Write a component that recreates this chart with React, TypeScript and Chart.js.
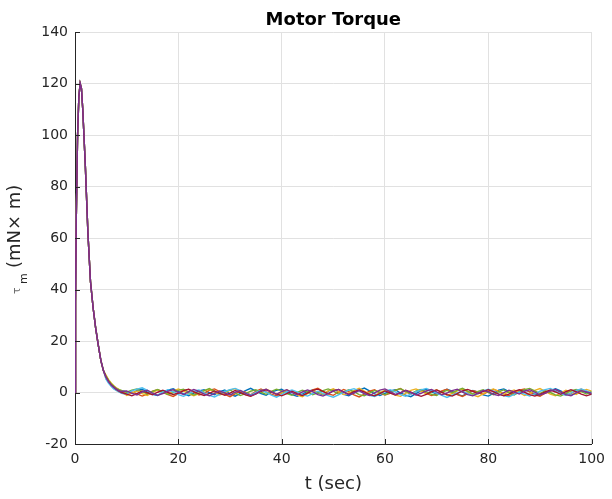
import React, { useEffect, useRef } from 'react';
import { Chart, registerables } from 'chart.js';

Chart.register(...registerables);

// ---- data ----
// shared rise and early decay (sec, mN·m)
const RISE_T = [0, 0.1, 0.25, 0.5, 0.75, 1, 1.25, 1.5, 1.75, 2, 2.5, 3, 3.5, 4, 4.5, 5, 5.5];
const RISE_Y = [0, 35, 68, 100, 115, 120, 118, 110, 99, 88, 62, 43, 33, 25, 18.5, 12.5, 8.5];

// per-run settling (sec)
const SETTLE_T = [6, 6.5, 7, 7.5, 8, 8.5, 9, 9.5];
const SETTLE_1 = [6.2, 4.4, 3.3, 2.2, 1.6, 0.9, 0.6, 0.5];
const SETTLE_2 = [5.5, 3.9, 2.6, 1.7, 0.9, 0.3, -0.1, -0.4];
const SETTLE_3 = [6.8, 5.0, 3.7, 2.6, 1.8, 1.2, 0.5, -0.2];
const SETTLE_4 = [5.9, 4.2, 2.9, 2.0, 1.3, 0.7, 0.4, 0.5];
const SETTLE_5 = [6.5, 4.7, 3.4, 2.5, 1.5, 1.1, 0.8, 0.3];
const SETTLE_6 = [5.2, 3.6, 2.4, 1.4, 0.8, 0.2, -0.3, -0.5];
const SETTLE_7 = [6.0, 4.3, 3.0, 2.1, 1.2, 0.5, 0.0, -0.3];

// steady-state time grid (sec)
const TAIL_T = [
  10, 11, 12, 13, 14, 15, 16, 17, 18, 19,
  20, 21, 22, 23, 24, 25, 26, 27, 28, 29,
  30, 31, 32, 33, 34, 35, 36, 37, 38, 39,
  40, 41, 42, 43, 44, 45, 46, 47, 48, 49,
  50, 51, 52, 53, 54, 55, 56, 57, 58, 59,
  60, 61, 62, 63, 64, 65, 66, 67, 68, 69,
  70, 71, 72, 73, 74, 75, 76, 77, 78, 79,
  80, 81, 82, 83, 84, 85, 86, 87, 88, 89,
  90, 91, 92, 93, 94, 95, 96, 97, 98, 99,
  100,
];

const TAIL_1 = [
  0.3, -0.4, 0.8, 1.3, 0.2, -0.7, -1.2, 0.1, 0.9, 1.5,
  0.4, -0.5, -1.3, -0.2, 0.6, 1.1, -0.1, -0.9, 0.3, 1.0,
  -0.6, -1.4, -0.3, 0.7, 1.6, 0.5, -0.4, -1.1, 0.2, 0.8,
  1.3, 0.1, -0.8, -1.5, -0.6, 0.4, 1.0, -0.2, -0.9, 0.5,
  1.2, 0.3, -0.7, -1.3, -0.1, 0.9, 1.7, 0.6, -0.5, -1.2,
  -0.3, 0.6, 1.1, -0.2, -1.0, -1.6, -0.4, 0.7, 1.2, 0.2,
  -0.6, 0.4, 1.3, 0.5, -0.7, -1.3, -0.2, 0.8, 0.1, -0.9,
  -1.4, -0.3, 0.9, 1.4, 0.3, -0.8, 0.2, 1.0, 0.4, -0.6,
  -1.2, -0.1, 0.7, 1.5, 0.6, -0.4, -1.1, -0.2, 0.8, 0.0,
  -0.7,
];
const TAIL_2 = [
  -0.9, 0.2, -0.5, -1.4, -0.6, 0.5, 1.1, 0.1, -0.8, -1.5,
  -0.4, 0.7, 1.2, 0.0, -1.0, -0.3, 0.8, 1.4, 0.3, -0.7,
  -1.6, -0.5, 0.6, 0.1, -0.9, 0.4, 1.3, 0.2, -0.6, -1.3,
  -0.2, 0.9, 0.3, -0.8, -1.4, -0.1, 1.0, 1.6, 0.4, -0.5,
  -1.1, 0.2, 1.2, 0.3, -0.9, -1.7, -0.6, 0.5, 1.1, -0.2,
  -1.0, -0.3, 0.8, 1.5, 0.2, -0.6, 0.4, 1.0, -0.3, -1.2,
  -0.5, 0.6, 1.3, 0.1, -0.8, -1.5, -0.4, 0.7, 0.2, -0.7,
  0.3, 1.2, 0.5, -0.6, -1.3, -0.2, 0.9, 1.4, 0.2, -0.9,
  -1.5, -0.3, 0.6, 1.1, -0.1, -1.0, -0.4, 0.7, 1.3, 0.3,
  -0.4,
];
const TAIL_3 = [
  -1.1, -0.2, 0.6, -0.4, -1.2, 0.0, 1.0, 0.3, -0.6, 0.5,
  1.4, 0.6, -0.5, -1.3, -0.4, 0.7, 1.2, 0.1, -1.0, -0.2,
  0.9, 1.5, 0.3, -0.8, -1.4, -0.5, 0.6, 1.3, 0.4, -0.7,
  -0.1, 1.0, 0.2, -0.9, -1.6, -0.4, 0.8, 0.1, -0.7, 0.6,
  1.4, 0.3, -0.8, -0.2, 0.7, 1.6, 0.5, -0.6, -1.3, 0.0,
  0.9, 0.2, -1.0, -1.5, -0.3, 0.8, 1.4, 0.4, -0.5, 0.3,
  1.1, 0.0, -1.1, -0.4, 0.6, 1.3, 0.2, -0.9, -1.6, -0.5,
  0.7, 1.4, 0.3, -0.7, 0.2, 1.0, -0.1, -1.2, -0.4, 0.8,
  1.5, 0.4, -0.6, -1.3, -0.2, 0.9, 0.2, -0.8, 0.4, 1.2,
  0.5,
];
const TAIL_4 = [
  0.6, -0.3, -1.0, 0.2, 0.9, -0.2, -1.1, -0.4, 0.5, 1.1,
  0.1, -0.8, 0.3, 1.2, 0.4, -0.6, -1.3, -0.3, 0.6, -0.2,
  -1.0, 0.1, 0.8, -0.3, -1.2, -0.5, 0.7, 1.3, 0.2, -0.7,
  0.4, 1.1, 0.0, -0.9, 0.2, 1.0, 0.3, -0.8, -1.4, -0.4,
  0.6, 1.2, 0.1, -0.9, -0.2, 0.7, -0.4, -1.2, -0.1, 0.9,
  1.4, 0.3, -0.7, -0.1, 0.8, 0.0, -1.0, -0.3, 0.6, 1.2,
  0.2, -0.9, -0.2, 0.7, 1.3, 0.1, -0.8, -1.3, -0.2, 0.8,
  0.3, -0.7, -1.2, 0.0, 0.9, 0.2, -0.6, 0.5, 1.1, 0.1,
  -0.9, -0.3, 0.6, 1.2, 0.2, -0.8, -1.3, -0.1, 0.7, 0.2,
  -0.3,
];
const TAIL_5 = [
  0.1, 0.9, 1.4, 0.3, -0.6, 0.4, 1.2, 0.2, -0.8, -0.1,
  0.8, 1.3, 0.0, -1.0, -0.2, 0.7, 1.5, 0.5, -0.5, 0.3,
  1.0, -0.2, -1.2, -0.4, 0.5, 1.1, 0.1, -0.7, 0.4, 1.3,
  0.6, -0.4, -1.1, 0.0, 0.9, 0.2, -0.9, -0.1, 0.7, 1.4,
  0.5, -0.6, 0.2, 1.1, 0.3, -0.8, -1.3, -0.2, 0.8, 0.1,
  -0.9, 0.0, 0.9, 1.5, 0.4, -0.5, 0.5, 1.2, 0.2, -0.7,
  -1.2, 0.1, 0.8, -0.1, 0.9, 1.6, 0.5, -0.6, 0.4, 1.1,
  0.0, -0.9, 0.3, 1.0, -0.1, -1.0, 0.2, 1.1, 1.6, 0.6,
  -0.4, 0.7, 0.0, -0.9, -1.4, -0.3, 0.6, 1.2, 0.3, -0.6,
  0.4,
];
const TAIL_6 = [
  -0.5, 0.6, 1.3, 1.8, 0.8, -0.3, -1.0, 0.2, 1.1, 0.3,
  -0.8, -1.5, -0.5, 0.5, 1.0, -0.1, -1.1, -1.7, -0.7, 0.4,
  1.1, 1.6, 0.7, -0.3, -1.0, 0.0, 0.9, 0.1, -1.0, -1.8,
  -0.8, 0.3, 1.0, 0.2, -0.8, -1.4, -0.4, 0.5, -0.3, -1.2,
  -1.8, -0.9, 0.1, 0.9, 1.5, 0.6, -0.4, -1.1, -1.6, -0.6,
  0.4, 1.1, 0.2, -0.8, -1.5, -0.6, 0.3, 1.0, 1.6, 0.7,
  -0.2, -1.1, -1.9, -1.0, -0.2, 0.6, -0.4, -1.2, -0.4, 0.6,
  1.3, 0.5, -0.5, -1.2, -1.7, -0.7, 0.2, -0.6, -1.4, -0.5,
  0.5, 1.1, 1.6, 0.6, -0.4, -1.1, -0.2, 0.8, 1.4, 0.6,
  -0.2,
];
const TAIL_7 = [
  -0.6, -1.3, -0.4, 0.6, -0.1, -0.9, 0.1, 0.9, 0.0, -0.8,
  -0.2, 0.7, 1.3, 0.3, -0.5, -1.2, -0.3, 0.6, -0.3, -1.1,
  -0.2, 0.8, 0.0, -0.9, -1.5, -0.5, 0.5, 1.0, 0.2, -0.6,
  -1.3, -0.4, 0.5, -0.4, -1.2, -0.2, 0.8, 1.3, 0.4, -0.5,
  0.6, 1.2, 0.2, -0.7, 0.3, 1.0, 0.2, -0.8, -1.3, -0.4,
  0.6, -0.2, -1.0, -0.1, 0.9, 0.1, -0.8, -1.5, -0.7, 0.3,
  1.0, 0.1, -0.8, -1.4, -0.4, 0.6, 1.2, 0.4, -0.5, 0.4,
  1.1, 0.3, -0.6, -1.3, -0.6, 0.4, 1.1, 0.1, -0.8, -1.4,
  -0.7, 0.2, 1.0, 0.2, -0.7, 0.3, 1.1, 0.3, -0.6, -1.3,
  -0.6,
];

const SETTLES = [SETTLE_1, SETTLE_2, SETTLE_3, SETTLE_4, SETTLE_5, SETTLE_6, SETTLE_7];
const TAILS = [TAIL_1, TAIL_2, TAIL_3, TAIL_4, TAIL_5, TAIL_6, TAIL_7];
const COLORS = ['#0072BD', '#D95319', '#EDB120', '#7E2F8E', '#77AC30', '#4DBEEE', '#A2142F'];
const TOP_RUN = 3; // purple drawn on top

const X_TICKS = [0, 20, 40, 60, 80, 100];
const Y_TICKS = [-20, 0, 20, 40, 60, 80, 100, 120, 140];

const TITLE = 'Motor Torque';
const X_LABEL = 't (sec)';
const Y_LABEL_SYMBOL = 'τ';
const Y_LABEL_SUB = 'm';
const Y_LABEL_UNIT = '(mN× m)';

const FONT = '"DejaVu Sans", sans-serif';
const AXIS_COLOR = '#262626';
const GRID_COLOR = '#e1e1e1';

const decorPlugin = {
  id: 'decor',
  afterDraw(chart: any) {
    const { ctx, chartArea: a, scales } = chart;
    ctx.save();
    // inward tick marks
    ctx.strokeStyle = AXIS_COLOR;
    ctx.lineWidth = 1;
    ctx.beginPath();
    X_TICKS.forEach((v) => {
      const x = Math.round(scales.x.getPixelForValue(v)) + 0.5;
      ctx.moveTo(x, a.bottom);
      ctx.lineTo(x, a.bottom - 5);
    });
    Y_TICKS.forEach((v) => {
      const y = Math.round(scales.y.getPixelForValue(v)) + 0.5;
      ctx.moveTo(a.left, y);
      ctx.lineTo(a.left + 5, y);
    });
    ctx.stroke();

    const cx = (a.left + a.right) / 2;
    // title
    ctx.fillStyle = '#000000';
    ctx.font = `bold 18px ${FONT}`;
    ctx.textAlign = 'center';
    ctx.textBaseline = 'alphabetic';
    ctx.fillText(TITLE, cx, 25);

    // x label
    ctx.fillStyle = AXIS_COLOR;
    ctx.font = `18px ${FONT}`;
    ctx.fillText(X_LABEL, cx, 489);

    // y label (rotated)
    ctx.save();
    ctx.translate(20, 294);
    ctx.rotate(-Math.PI / 2);
    ctx.textAlign = 'left';
    ctx.fillStyle = '#6a6a6a';
    ctx.font = `11px ${FONT}`;
    ctx.fillText(Y_LABEL_SYMBOL, 0, 0);
    ctx.fillStyle = AXIS_COLOR;
    ctx.font = `11px ${FONT}`;
    ctx.fillText(Y_LABEL_SUB, 10, 7);
    ctx.font = `18px ${FONT}`;
    ctx.fillText(Y_LABEL_UNIT, 26, 0);
    ctx.restore();

    ctx.restore();
  },
};

export default function App() {
  const ref = useRef<HTMLCanvasElement>(null);

  useEffect(() => {
    document.body.style.margin = '0';
    const canvas = ref.current;
    if (!canvas) return;

    const datasets = TAILS.map((tail, i) => {
      const settle = SETTLES[i];
      const data = [
        ...RISE_T.map((t, k) => ({ x: t, y: RISE_Y[k] })),
        ...SETTLE_T.map((t, k) => ({ x: t, y: settle[k] })),
        ...TAIL_T.map((t, k) => ({ x: t, y: tail[k] })),
      ];
      return {
        label: `run ${i + 1}`,
        data,
        borderColor: COLORS[i],
        backgroundColor: COLORS[i],
        borderWidth: 1.4,
        pointRadius: 0,
        tension: 0,
        fill: false,
        order: i === TOP_RUN ? -100 : -i,
      };
    });

    const chart = new Chart(canvas, {
      type: 'line',
      data: { datasets },
      options: {
        animation: false,
        responsive: false,
        maintainAspectRatio: false,
        devicePixelRatio: 1,
        layout: { padding: { top: 32, right: 15, left: 0, bottom: 0 } },
        plugins: {
          legend: { display: false },
          tooltip: { enabled: false },
          title: { display: false },
        },
        scales: {
          x: {
            type: 'linear',
            min: 0,
            max: 100,
            afterFit: (s: any) => { s.height = 55; },
            afterBuildTicks: (s: any) => { s.ticks = X_TICKS.map((v) => ({ value: v })); },
            ticks: {
              color: AXIS_COLOR,
              font: { family: FONT, size: 14 },
              padding: 7,
              maxRotation: 0,
            },
            grid: { color: GRID_COLOR, drawTicks: false, lineWidth: 1 },
            border: { display: true, color: AXIS_COLOR, width: 1 },
          },
          y: {
            type: 'linear',
            min: -20,
            max: 140,
            afterFit: (s: any) => { s.width = 75; },
            afterBuildTicks: (s: any) => { s.ticks = Y_TICKS.map((v) => ({ value: v })); },
            ticks: {
              color: AXIS_COLOR,
              font: { family: FONT, size: 14 },
              padding: 7,
            },
            grid: { color: GRID_COLOR, drawTicks: false, lineWidth: 1 },
            border: { display: true, color: AXIS_COLOR, width: 1 },
          },
        },
      },
      plugins: [decorPlugin],
    });

    return () => chart.destroy();
  }, []);

  return (
    <div style={{ width: 612, height: 499, background: '#ffffff' }}>
      <canvas ref={ref} width={612} height={499} style={{ display: 'block' }} />
    </div>
  );
}
